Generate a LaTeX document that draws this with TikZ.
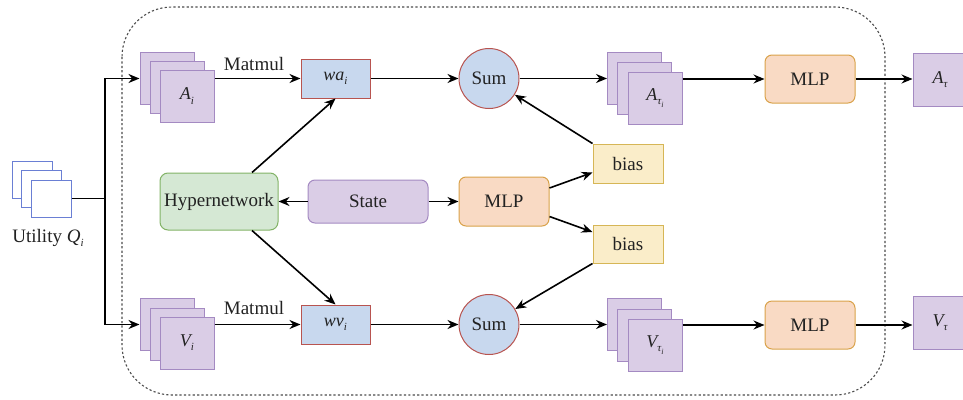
\documentclass[tikz,border=0pt]{standalone}
\usepackage{fontspec}
\setmainfont{Liberation Serif}
\usetikzlibrary{arrows.meta}
\definecolor{pfill}{HTML}{DACDE6}
\definecolor{pdraw}{HTML}{A48AC2}
\definecolor{bfill}{HTML}{C8D8EE}
\definecolor{rdraw}{HTML}{B85450}
\definecolor{gfill}{HTML}{D5E8D4}
\definecolor{gdraw}{HTML}{82B366}
\definecolor{ofill}{HTML}{F9DAC4}
\definecolor{odraw}{HTML}{D9A24A}
\definecolor{yfill}{HTML}{FAEDC9}
\definecolor{ydraw}{HTML}{D6B656}
\definecolor{udraw}{HTML}{6A7FD4}
\definecolor{txt}{HTML}{222222}
\newcommand{\mysb}[2]{#1\raisebox{-0.5ex}{\fontsize{11}{11}\selectfont #2}}
\newcommand{\mytau}{\raisebox{-0.5ex}{\fontsize{11}{11}\selectfont τ\raisebox{-0.45ex}{\fontsize{8}{8}\selectfont i}}}
\begin{document}
\begin{tikzpicture}[x=1pt,y=-1pt,
  every node/.style={text=txt,font=\fontsize{19}{22}\selectfont,inner sep=0pt},
  sq/.style={draw=pdraw,fill=pfill,line width=1pt,minimum width=54pt,minimum height=52pt},
  usq/.style={draw=udraw,fill=white,line width=1pt,minimum width=40pt,minimum height=37pt},
  wbox/.style={draw=rdraw,fill=bfill,line width=1pt,minimum width=69pt,minimum height=39pt},
  sumc/.style={circle,draw=rdraw,fill=bfill,line width=1pt,minimum size=60pt},
  mlpbox/.style={draw=odraw,fill=ofill,line width=1pt,rounded corners=7pt,minimum width=90pt,minimum height=48pt},
  biasbox/.style={draw=ydraw,fill=yfill,line width=1pt,minimum width=70pt,minimum height=39pt},
  arr/.style={line width=1.6pt,black,-{Stealth[length=11pt,width=9pt]}},
  ln/.style={line width=1.6pt,black},
  it/.style={font=\fontsize{18}{22}\selectfont\itshape}]
\useasboundingbox (0,0) rectangle (963,399);
% dashed container
\draw[line width=1.1pt,gray!60!black,dash pattern=on 2.2pt off 2.2pt,rounded corners=50pt] (122,7) rectangle (885,395);
% utility stack
\node[usq] (U1) at (32,179.5) {};
\node[usq] (U2) at (41.5,189) {};
\node[usq] (U3) at (51,198.5) {};
\node (UL) at (48,238) {Utility \mysb{\itshape Q}{\itshape i}};
\coordinate (J) at (105,198.5);
% A_i stack
\node[sq] (A1) at (167,78.5) {};
\node[sq] (A2) at (177,87.5) {};
\node[sq,it] (A3) at (187,96) {\mysb{A}{i}};
% V_i stack
\node[sq] (V1) at (167,324.5) {};
\node[sq] (V2) at (177,334) {};
\node[sq,it] (V3) at (187,343) {\mysb{V}{i}};
% w boxes
\node[wbox,it] (wa) at (335.5,78.5) {\mysb{wa}{i}};
\node[wbox,it] (wv) at (335.5,324.5) {\mysb{wv}{i}};
\node (mm1) at (254,64) {Matmul};
\node (mm2) at (254,308) {Matmul};
% sums
\node[sumc] (S1) at (489,78.5) {Sum};
\node[sumc] (S2) at (489,324.5) {Sum};
% middle row
\node[draw=gdraw,fill=gfill,line width=1pt,rounded corners=8pt,minimum width=118pt,minimum height=57pt] (H) at (219,201.5) {Hypernetwork};
\node[draw=pdraw,fill=pfill,line width=1pt,rounded corners=7pt,minimum width=120pt,minimum height=43pt] (St) at (368,201.5) {State};
\node[mlpbox,minimum height=49pt] (Mm) at (504,201.5) {MLP};
\node[biasbox] (B1) at (628,163.5) {bias};
\node[biasbox,minimum height=38pt] (B2) at (628,244) {bias};
% A_tau_i stack
\node[sq] (T1) at (634.5,78.5) {};
\node[sq] (T2) at (644.5,88) {};
\node[sq,it] (T3) at (655,98) {A\mytau};
% V_tau_i stack
\node[sq] (W1) at (634.5,324.5) {};
\node[sq] (W2) at (644.5,335) {};
\node[sq,it] (W3) at (655,345) {V\mytau};
% MLPs
\node[mlpbox] (M1) at (810,79) {MLP};
\node[mlpbox] (M2) at (810,325) {MLP};
% outputs
\node[sq,minimum height=53pt,it] (Ao) at (940,79.5) {\mysb{A}{τ}};
\node[sq,minimum height=53pt,it] (Vo) at (940,322.5) {\mysb{V}{τ}};
% connectors
\draw[ln] (U3.east |- J) -- (J);
\draw[arr] (J) |- (A1.west);
\draw[arr] (J) |- (V1.west);
\draw[arr] (A3.east |- wa.west) -- (wa.west);
\draw[arr] (V3.east |- wv.west) -- (wv.west);
\draw[arr] (wa.east) -- (S1.west);
\draw[arr] (wv.east) -- (S2.west);
\draw[arr] (S1.east) -- (T1.west);
\draw[arr] (S2.east) -- (W1.west);
\draw[arr] (T3.east |- M1.west) -- (M1.west);
\draw[arr] (W3.east |- M2.west) -- (M2.west);
\draw[arr] (M1.east) -- (M1.east -| Ao.west);
\draw[arr] (M2.east) -- (M2.east -| Vo.west);
\draw[arr] (St.west) -- (H.east);
\draw[arr] (St.east) -- (Mm.west);
\draw[arr] ([yshift=13.5pt]Mm.east) -- ([yshift=-9pt]B1.west);
\draw[arr] ([yshift=-15pt]Mm.east) -- ([yshift=12pt]B2.west);
\draw[arr] ([xshift=33pt]H.north) -- (wa.south);
\draw[arr] ([xshift=33pt]H.south) -- (wv.north);
\draw[arr] (B1.north west) -- (S1);
\draw[arr] (B2.south west) -- (S2);
\end{tikzpicture}
\end{document}
